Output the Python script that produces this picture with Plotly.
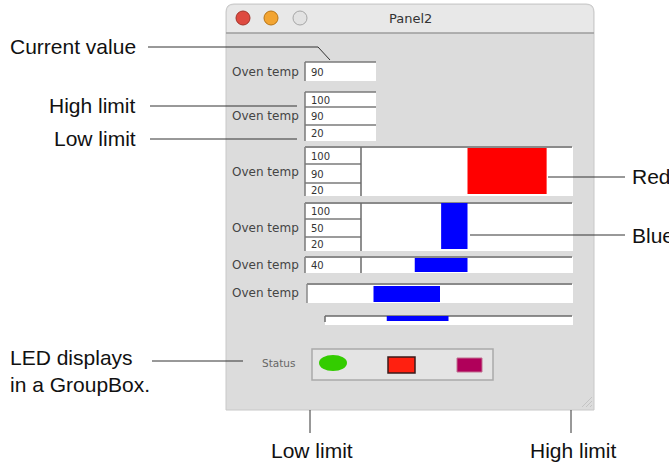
import plotly.graph_objects as go

W, H = 669, 462

# values shown in the panel
field_label = "Oven temp"
current_value = ["90"]
limit_values = ["100", "90", "20"]
red_display = ["100", "90", "20"]
blue_display = ["100", "50", "20"]
single_display = ["40"]
bar_values = [90, 50, 40, 40, 40]
bar_base = 60
bar_limits = [20, 100]
bar_colors = ["#ff0000", "#0000ff", "#0000ff", "#0000ff", "#0000ff"]
led_colors = ["#33cc00", "#ff2010", "#b0005a"]
status_label = "Status"

# callout texts
left_notes = ["Current value", "High limit", "Low limit"]
right_notes = ["Red", "Blue"]
bottom_notes = ["Low limit", "High limit"]
group_note = "LED displays<br>in a GroupBox."

LABEL_FONT = dict(family="Liberation Sans, Arial, sans-serif", size=21, color="#111")
SMALL_FONT = dict(family="DejaVu Sans, sans-serif", size=12, color="#444")
NUM_FONT = dict(family="DejaVu Sans, sans-serif", size=10, color="#333")
EDGE = "#7a7a7a"

shapes = []
ann = []


def rect(x0, y0, x1, y1, fill, line=None, width=0, xref="x", layer="above"):
    shapes.append(dict(type="rect", xref=xref, yref="y", x0=x0, y0=y0, x1=x1, y1=y1,
                       fillcolor=fill, line=dict(color=line or fill, width=width), layer=layer))


def seg(x0, y0, x1, y1, color="#333", width=1):
    shapes.append(dict(type="line", xref="x", yref="y", x0=x0, y0=y0, x1=x1, y1=y1,
                       line=dict(color=color, width=width)))


def text(x, y, s, font, xanchor="left", yanchor="middle", align="left"):
    ann.append(dict(x=x, y=y, xref="x", yref="y", text=s, showarrow=False, font=font,
                    xanchor=xanchor, yanchor=yanchor, align=align))


def field(x0, y0, x1, y1, s):
    # inset text box
    rect(x0, y0, x1, y1, "white")
    seg(x0, y0, x1, y0, EDGE, 1.5)
    seg(x0, y0, x0, y1, EDGE, 1.5)
    text(x0 + 4, (y0 + y1) / 2 + 0.5, s, NUM_FONT)


# window body
shapes.append(dict(type="path", xref="x", yref="y",
                   path="M226,410 L226,12 Q226,4 234,4 L586,4 Q594,4 594,12 L594,410 Z",
                   fillcolor="#dcdcdc", line=dict(color="#c8c8c8", width=1), layer="below"))
# title bar
shapes.append(dict(type="path", xref="x", yref="y",
                   path="M227,33 L227,12 Q227,5 234,5 L586,5 Q593,5 593,12 L593,33 Z",
                   fillcolor="#e8e8e8", line=dict(width=0), layer="below"))
seg(226, 33, 594, 33, "#9c9c9c", 1.5)
for cx, fill, edge in [(243, "#de4a40", "#a33329"), (271, "#f2a431", "#b87414"), (300, "#e2e2e2", "#a6a6a6")]:
    shapes.append(dict(type="circle", xref="x", yref="y", x0=cx - 7, x1=cx + 7, y0=11, y1=25,
                       fillcolor=fill, line=dict(color=edge, width=1)))
text(410, 18, "Panel2", dict(family="DejaVu Sans, sans-serif", size=13, color="#333"), xanchor="center")

# widget 1: current value
text(301, 72, field_label, SMALL_FONT, xanchor="right")
field(305, 62, 376, 81, current_value[0])

# widget 2: high / current / low fields
text(301, 116, field_label, SMALL_FONT, xanchor="right")
for (y0, y1), s in zip([(92, 107), (107, 125), (125, 141)], limit_values):
    field(305, y0, 376, y1, s)

# widgets 3-5: fields plus bar area
rows3 = [(147, 164), (164, 183), (183, 196)]
rows4 = [(203, 219), (219, 237), (237, 251)]
for rows, vals, ymid in [(rows3, red_display, 172), (rows4, blue_display, 228)]:
    text(301, ymid, field_label, SMALL_FONT, xanchor="right")
    rect(361, rows[0][0], 573, rows[-1][1], "white")
    for (y0, y1), s in zip(rows, vals):
        field(305, y0, 361, y1, s)
    seg(305, rows[0][0], 572, rows[0][0], "#8a8a8a", 2)
    seg(361, rows[0][0], 361, rows[-1][1], "#6a6a6a", 1.5)

text(301, 265, field_label, SMALL_FONT, xanchor="right")
rect(361, 257, 573, 273, "white")
field(305, 257, 361, 273, single_display[0])
seg(305, 257, 572, 257, "#8a8a8a", 2)
seg(361, 257, 361, 273, "#6a6a6a", 1.5)

# widget 6: bar only
text(301, 293, field_label, SMALL_FONT, xanchor="right")
rect(307, 284, 573, 303, "white")
seg(307, 284, 572, 284, "#8a8a8a", 2)
seg(307, 284, 307, 303, "#8a8a8a", 1.5)

# widget 7: thin bar
rect(325, 316, 573, 325, "white")
seg(325, 316, 572, 316, "#6a6a6a", 1.5)
seg(325, 316, 325, 322, "#6a6a6a", 1.5)

# bars drawn on their own value axes (limits 20..100, base 60)
bar_areas = [(362, 573), (362, 573), (362, 573), (307, 573), (325, 572)]
bar_rows = [(148, 194), (203, 249), (258, 272), (286, 302), (316, 321)]
for i, ((ax0, ax1), (y0, y1), v, c) in enumerate(zip(bar_areas, bar_rows, bar_values, bar_colors)):
    rect(bar_base, y0, v, y1, c, xref=f"x{i + 2}")

# status group box
text(297, 363, status_label, dict(family="DejaVu Sans, sans-serif", size=10.5, color="#666"), xanchor="right")
rect(312, 349, 493, 380, "#e4e4e4", line="#a9a9a9", width=1.5)
shapes.append(dict(type="circle", xref="x", yref="y", x0=319, x1=347, y0=355, y1=371,
                   fillcolor=led_colors[0], line=dict(color=led_colors[0], width=0)))
rect(388, 357, 415, 373, led_colors[1], line="#3a1a1a", width=1.5)
rect(457, 358, 482, 372, led_colors[2], line="#c07090", width=1)

# resize grip
for k in range(3):
    seg(582 + 4 * k, 407, 592, 397 + 4 * k, "#c4c4c4", 1)

# callouts
for s, y in zip(left_notes, [46, 105, 138]):
    text(138, y, s, LABEL_FONT, xanchor="right")
shapes.append(dict(type="path", xref="x", yref="y", path="M148,47 L318,47 L330,60",
                   line=dict(color="#333", width=1)))
seg(150, 106, 297, 106)
seg(150, 139, 297, 139)

for s, y in zip(right_notes, [176, 235]):
    text(630, y, s, LABEL_FONT)
seg(548, 177, 625, 177)
seg(470, 235, 625, 235)

text(8, 371, group_note, LABEL_FONT, align="left")
seg(152, 361, 243, 361)

for s, x in zip(bottom_notes, [312, 573]):
    text(x, 450, s, LABEL_FONT, xanchor="center")
seg(310, 410, 310, 433)
seg(571, 410, 571, 433)

fig = go.Figure()
fig.add_trace(go.Scatter(x=[0], y=[0], mode="markers", marker=dict(opacity=0),
                         hoverinfo="skip", showlegend=False))

axes = {}
for i, (ax0, ax1) in enumerate(bar_areas):
    axes[f"xaxis{i + 2}"] = dict(domain=[ax0 / W, ax1 / W], range=bar_limits, visible=False,
                                 anchor="y", fixedrange=True)
    fig.add_trace(go.Scatter(x=[bar_limits[0]], y=[0], xaxis=f"x{i + 2}", yaxis="y", mode="markers",
                             marker=dict(opacity=0), hoverinfo="skip", showlegend=False))

fig.update_layout(
    width=W, height=H, autosize=False,
    margin=dict(l=0, r=0, t=0, b=0),
    paper_bgcolor="white", plot_bgcolor="rgba(0,0,0,0)",
    xaxis=dict(range=[0, W], visible=False, fixedrange=True),
    yaxis=dict(range=[H, 0], visible=False, fixedrange=True),
    shapes=shapes, annotations=ann, showlegend=False,
    **axes,
)

# the page body has a default 8px margin; remove it so the chart sits at the corner
fig.write_html("out.html", config=dict(displayModeBar=False),
               post_script="document.body.style.margin='0';")
